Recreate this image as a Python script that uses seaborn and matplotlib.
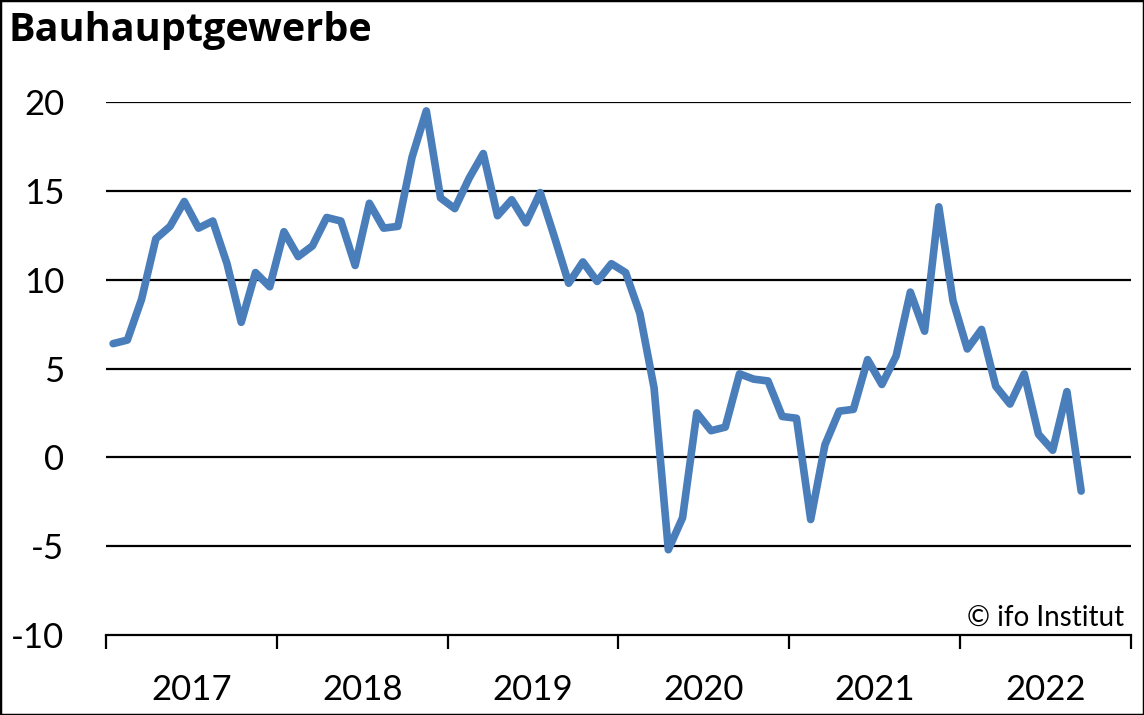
import pandas as pd
import numpy as np
import seaborn as sns
import matplotlib.pyplot as plt
from matplotlib.patches import Rectangle
from matplotlib.ticker import FixedLocator

sns.set_theme(style="white")
plt.rcParams["font.family"] = ["Lato", "DejaVu Sans"]
plt.rcParams["text.color"] = "black"

# monthly balance, Jan 2017 .. Sep 2022
values = [6.4, 6.6, 8.9, 12.3, 13.0, 14.4, 12.9, 13.3, 10.9, 7.6, 10.4, 9.6,
          12.7, 11.3, 11.9, 13.5, 13.3, 10.8, 14.3, 12.9, 13.0, 16.9, 19.5, 14.6,
          14.0, 15.7, 17.1, 13.6, 14.5, 13.2, 14.9, 12.4, 9.8, 11.0, 9.9, 10.9,
          10.4, 8.1, 3.9, -5.2, -3.4, 2.5, 1.5, 1.7, 4.7, 4.4, 4.3, 2.3,
          2.2, -3.5, 0.7, 2.6, 2.7, 5.5, 4.1, 5.7, 9.3, 7.1, 14.1, 8.8,
          6.1, 7.2, 4.0, 3.0, 4.7, 1.3, 0.4, 3.7, -1.9]
years = ["2017", "2018", "2019", "2020", "2021", "2022"]
title = "Bauhauptgewerbe"
source = "© ifo Institut"

df = pd.DataFrame({"month": np.arange(len(values)), "value": values})

fig = plt.figure(figsize=(11.44, 7.15), dpi=100)
ax = fig.add_axes([106 / 1144, 1 - 635 / 715, 1025 / 1144, 533 / 715])

sns.lineplot(data=df, x="month", y="value", ax=ax, color="#4A7EBB",
             linewidth=5.5, solid_joinstyle="round", solid_capstyle="round")

ax.set_xlim(-0.5, 12 * len(years) - 0.5)
ax.set_ylim(-10, 20)
ax.set_yticks(range(-10, 21, 5))
ax.set_yticklabels([str(v) for v in range(-10, 21, 5)])
for v in range(-5, 21, 5):
    ax.axhline(v, color="black", linewidth=1.6, zorder=0)

# year boundaries as ticks, year labels centred between them
ax.xaxis.set_major_locator(FixedLocator([12 * i - 0.5 for i in range(len(years) + 1)]))
ax.xaxis.set_minor_locator(FixedLocator([12 * i + 5.5 for i in range(len(years))]))
ax.set_xticklabels([""] * (len(years) + 1))
ax.set_xticklabels(years, minor=True)
ax.tick_params(axis="x", which="major", direction="out", length=10, width=1.6,
               color="black", bottom=True)
ax.tick_params(axis="x", which="minor", length=0, pad=28, labelsize=25,
               labelcolor="black")
ax.tick_params(axis="y", length=0, pad=30, labelsize=25, labelcolor="black")
ax.set_xlabel("")
ax.set_ylabel("")

for s in ["left", "right", "top"]:
    ax.spines[s].set_visible(False)
ax.spines["bottom"].set_color("black")
ax.spines["bottom"].set_linewidth(1.6)

fig.text(8 / 1144, 1 - 30 / 715, title, fontsize=28.5, fontweight="bold",
         va="center", ha="left", color="black",
         family=["Open Sans", "DejaVu Sans"])
ax.text(0.993, 0.008, source, transform=ax.transAxes, ha="right", va="bottom",
        fontsize=20, color="black")

fig.patches.append(Rectangle((0, 0), 1, 1, transform=fig.transFigure,
                             fill=False, edgecolor="black", linewidth=2.5))

plt.savefig("out.png", dpi=100)
